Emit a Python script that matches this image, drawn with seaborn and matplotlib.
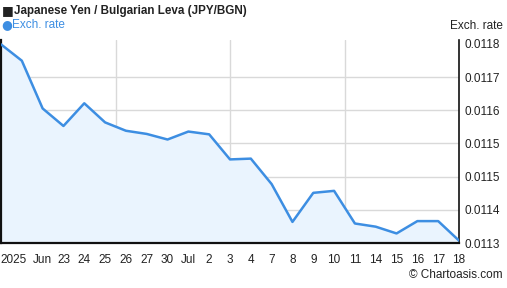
import matplotlib
matplotlib.use("Agg")
import matplotlib.pyplot as plt
from matplotlib.transforms import ScaledTranslation
import seaborn as sns
import pandas as pd

dates = ["Jun 18", "Jun 19", "Jun 20", "Jun 23", "Jun 24", "Jun 25", "Jun 26", "Jun 27",
         "Jun 30", "Jul 1", "Jul 2", "Jul 3", "Jul 4", "Jul 7", "Jul 8", "Jul 9",
         "Jul 10", "Jul 11", "Jul 14", "Jul 15", "Jul 16", "Jul 17", "Jul 18"]
rates = [0.011799, 0.011758, 0.011638, 0.011594, 0.011651, 0.011603, 0.011582, 0.011574,
         0.011560, 0.011580, 0.011573, 0.011510, 0.011512, 0.011448, 0.011353, 0.011426,
         0.011431, 0.011349, 0.011341, 0.011324, 0.011355, 0.011355, 0.011306]
xtick_labels = ["2025", "Jun", "23", "24", "25", "26", "27", "30", "Jul", "2", "3", "4",
                "7", "8", "9", "10", "11", "14", "15", "16", "17", "18"]
ytick_values = [0.0113, 0.0113833, 0.0114667, 0.01155, 0.0116333, 0.0117167, 0.0118]
ytick_labels = ["0.0113", "0.0114", "0.0115", "0.0115", "0.0116", "0.0117", "0.0118"]

df = pd.DataFrame({"idx": range(len(rates)), "date": dates, "rate": rates})

sns.set_theme(style="white")
plt.rcParams["font.family"] = ["Liberation Sans", "DejaVu Sans"]

fig = plt.figure(figsize=(5.07, 2.88), dpi=100)
ax = fig.add_axes([1/507, 1 - 243/288, 458/507, 203/288])

line_color = "#3d8ee2"
ymin, ymax = 0.0113, 0.01181
ax.fill_between(df["idx"], df["rate"], ymin, color="#eaf4fe", zorder=1)
sns.lineplot(data=df, x="idx", y="rate", ax=ax, color=line_color, linewidth=1.8, zorder=3)

ax.set_xlim(0, len(rates) - 1)
ax.set_ylim(ymin, ymax)

# gridlines (none at the top tick)
for yv in ytick_values[1:-1]:
    ax.axhline(yv, color="#d9d9d9", linewidth=1, zorder=0)
for fx in [0.25, 0.5, 0.75]:
    ax.axvline(fx * (len(rates) - 1), color="#d9d9d9", linewidth=1, zorder=0)

ax.set_xticks(range(1, len(rates)))
ax.set_xticklabels(xtick_labels, fontsize=8.5, color="#222222")
ax.set_yticks(ytick_values)
ax.set_yticklabels(ytick_labels, fontsize=8.5, color="#222222")
ax.yaxis.tick_right()
ax.tick_params(axis="both", length=0)
ax.tick_params(axis="y", pad=4)
ax.tick_params(axis="x", pad=8)
first = ax.get_xticklabels()[0]
first.set_transform(first.get_transform() + ScaledTranslation(-8/100, 0, fig.dpi_scale_trans))

ax.set_xlabel("")
ax.set_ylabel("")
for side in ["left", "bottom", "right"]:
    ax.spines[side].set_visible(True)
    ax.spines[side].set_color("#111111")
ax.spines["left"].set_linewidth(1.6)
ax.spines["bottom"].set_linewidth(1.6)
ax.spines["right"].set_linewidth(1.2)
ax.spines["top"].set_visible(False)

fig.text(2/507, 1 - 11/288, "■", fontsize=9, color="#222222", va="center", ha="left",
         family=["DejaVu Sans"])
fig.text(14/507, 1 - 11/288, "Japanese Yen / Bulgarian Leva (JPY/BGN)", fontsize=8.4,
         fontweight="bold", color="#222222", va="center", ha="left")
fig.text(1/507, 1 - 25/288, "●", fontsize=9, color=line_color, va="center", ha="left",
         family=["DejaVu Sans"])
fig.text(12/507, 1 - 25/288, "Exch. rate", fontsize=8.5, color=line_color, va="center", ha="left")
fig.text(503/507, 1 - 26/288, "Exch. rate", fontsize=8.5, color="#222222", va="center", ha="right")
fig.text(503/507, 1 - 275/288, "© Chartoasis.com", fontsize=8.5, color="#222222", va="center", ha="right")

fig.savefig("out.png", dpi=100)
